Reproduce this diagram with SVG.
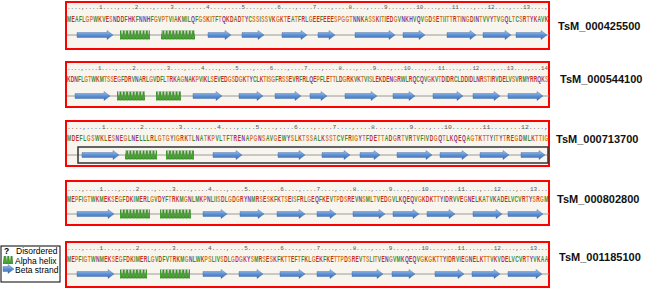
<svg xmlns="http://www.w3.org/2000/svg" width="650" height="289" viewBox="0 0 650 289">
<style>
.box{fill:#f7f5ee;stroke:#ff0000;stroke-width:2}
.seq{font-family:"Liberation Sans",Arial,sans-serif;font-size:9px;font-weight:bold;fill:#3e8a2e}
.r{fill:#c8301c}.o{fill:#db7a26}.p{fill:#7a3c98}
.rul{font-family:"Liberation Mono",monospace;font-size:6px;fill:#555}
.ln{stroke:#9a9a9a;stroke-width:1}
.bs{fill:url(#bgr);stroke:#3b65a3;stroke-width:0.4}
.hx{fill:url(#hx)}
.lab{font-family:"Liberation Sans",Arial,sans-serif;font-size:11px;font-weight:bold;fill:#111}
.leg{font-family:"Liberation Sans",Arial,sans-serif;font-size:8.5px;fill:#000}
</style>
<defs>
<linearGradient id="bgr" x1="0" y1="0" x2="0" y2="1"><stop offset="0" stop-color="#a9c8ee"/><stop offset="0.5" stop-color="#5b8fd3"/><stop offset="1" stop-color="#3a6cb0"/></linearGradient>
<pattern id="hx" patternUnits="userSpaceOnUse" x="0" y="-4.5" width="3.3" height="9"><path d="M0.2,9L1.1,0L2.2,0L3.1,9Z" fill="#45b02a" stroke="#17600d" stroke-width="0.6"/></pattern>
</defs>
<rect width="650" height="289" fill="#fff"/>

<g id="row1">
<rect class="box" x="66" y="2" width="483" height="47"/>
<text class="rul" x="67" y="9" textLength="481" lengthAdjust="spacingAndGlyphs">....,....1....,....2....,....3....,....4....,....5....,....6....,....7....,....8....,....9....,...10....,...11....,...12....,...13....,</text>
<text class="seq" transform="translate(67,21.5) scale(0.55,1)" x="0" y="0" textLength="875" lengthAdjust="spacing">M<tspan class="r">E</tspan>AFL<tspan class="o">GP</tspan>W<tspan class="r">K</tspan>V<tspan class="r">E</tspan><tspan class="o">S</tspan><tspan class="p">N</tspan><tspan class="r">DD</tspan>F<tspan class="p">H</tspan><tspan class="r">K</tspan>F<tspan class="p">NNH</tspan>F<tspan class="o">G</tspan>V<tspan class="o">PT</tspan>VIA<tspan class="r">K</tspan>MIL<tspan class="p">Q</tspan>F<tspan class="o">GS</tspan><tspan class="r">K</tspan>I<tspan class="o">T</tspan>F<tspan class="o">T</tspan><tspan class="p">Q</tspan><tspan class="r">KD</tspan>A<tspan class="r">D</tspan><tspan class="o">T</tspan><tspan class="p">Y</tspan>C<tspan class="o">SS</tspan>I<tspan class="o">SS</tspan>V<tspan class="r">K</tspan><tspan class="o">G</tspan><tspan class="r">K</tspan><tspan class="o">T</tspan><tspan class="r">E</tspan>A<tspan class="o">T</tspan>F<tspan class="r">R</tspan>L<tspan class="o">G</tspan><tspan class="r">EE</tspan>F<tspan class="r">EEE</tspan><tspan class="o">SPGGT</tspan><tspan class="p">NN</tspan><tspan class="r">K</tspan>A<tspan class="o">SS</tspan><tspan class="r">K</tspan>I<tspan class="o">T</tspan>I<tspan class="r">ED</tspan><tspan class="o">G</tspan>V<tspan class="p">N</tspan><tspan class="r">K</tspan><tspan class="p">H</tspan>V<tspan class="p">Q</tspan>V<tspan class="o">G</tspan><tspan class="r">D</tspan><tspan class="o">S</tspan><tspan class="r">E</tspan><tspan class="o">T</tspan>II<tspan class="o">TT</tspan><tspan class="r">R</tspan><tspan class="o">T</tspan>I<tspan class="p">N</tspan><tspan class="o">G</tspan><tspan class="r">D</tspan>I<tspan class="p">N</tspan><tspan class="o">T</tspan>VV<tspan class="p">Y</tspan><tspan class="o">T</tspan>V<tspan class="o">G</tspan><tspan class="p">Q</tspan>L<tspan class="o">T</tspan>C<tspan class="o">S</tspan><tspan class="r">R</tspan><tspan class="o">T</tspan><tspan class="p">Y</tspan><tspan class="r">K</tspan>AV<tspan class="r">K</tspan></text>
<g transform="translate(0,35)">
<line class="ln" x1="67" y1="0" x2="549" y2="0"/>
<rect class="hx" x="120" y="-4.5" width="30" height="9"/>
<rect class="hx" x="161" y="-4.5" width="34" height="9"/>
<path class="bs" d="M77,-2.5H107V-4.5L113,0L107,4.5V2.5H77ZM208,-2.5H225V-4.5L231,0L225,4.5V2.5H208ZM242,-2.5H258V-4.5L264,0L258,4.5V2.5H242ZM282,-2.5H301V-4.5L307,0L301,4.5V2.5H282ZM318,-2.5H329V-4.5L335,0L329,4.5V2.5H318ZM355,-2.5H389V-4.5L395,0L389,4.5V2.5H355ZM403,-2.5H419V-4.5L425,0L419,4.5V2.5H403ZM447,-2.5H470V-4.5L476,0L470,4.5V2.5H447ZM483,-2.5H505V-4.5L511,0L505,4.5V2.5H483ZM516,-2.5H541V-4.5L547,0L541,4.5V2.5H516Z"/>
</g>
<text class="lab" x="558" y="30">TsM_000425500</text>
</g>

<g id="row2">
<rect class="box" x="66" y="62" width="483" height="45"/>
<text class="rul" x="67" y="70" textLength="481" lengthAdjust="spacingAndGlyphs">....,....1....,....2....,....3....,....4....,....5....,....6....,....7....,....8....,....9....,...10....,...11....,...12....,...13....,...14</text>
<text class="seq" transform="translate(67,81.5) scale(0.55,1)" x="0" y="0" textLength="875" lengthAdjust="spacing"><tspan class="r">KD</tspan><tspan class="p">N</tspan>FL<tspan class="o">GT</tspan>W<tspan class="r">K</tspan>M<tspan class="o">TSS</tspan><tspan class="r">E</tspan><tspan class="o">G</tspan>F<tspan class="r">DR</tspan>V<tspan class="p">N</tspan>A<tspan class="r">R</tspan>L<tspan class="o">G</tspan>V<tspan class="r">D</tspan>FL<tspan class="o">T</tspan><tspan class="r">RK</tspan>A<tspan class="o">G</tspan><tspan class="p">N</tspan>A<tspan class="r">K</tspan><tspan class="o">P</tspan>VI<tspan class="r">K</tspan>L<tspan class="o">S</tspan><tspan class="r">E</tspan>V<tspan class="r">ED</tspan><tspan class="o">GS</tspan><tspan class="r">D</tspan><tspan class="o">G</tspan><tspan class="r">K</tspan><tspan class="o">T</tspan><tspan class="p">Y</tspan>CL<tspan class="r">K</tspan><tspan class="o">T</tspan>I<tspan class="o">SG</tspan>F<tspan class="r">R</tspan><tspan class="o">SS</tspan><tspan class="r">E</tspan>V<tspan class="r">R</tspan>F<tspan class="r">R</tspan>L<tspan class="p">Q</tspan><tspan class="r">E</tspan><tspan class="o">P</tspan>FL<tspan class="r">E</tspan><tspan class="o">TT</tspan>L<tspan class="r">D</tspan><tspan class="o">G</tspan><tspan class="r">RK</tspan>V<tspan class="r">K</tspan><tspan class="o">T</tspan>VI<tspan class="o">S</tspan>L<tspan class="r">EKDE</tspan><tspan class="p">N</tspan><tspan class="o">G</tspan><tspan class="r">R</tspan>WL<tspan class="r">R</tspan><tspan class="p">Q</tspan>C<tspan class="p">Q</tspan>V<tspan class="o">G</tspan><tspan class="r">K</tspan>V<tspan class="o">T</tspan><tspan class="r">D</tspan>I<tspan class="r">DR</tspan>CL<tspan class="r">DD</tspan>I<tspan class="r">D</tspan>L<tspan class="p">N</tspan><tspan class="r">R</tspan><tspan class="o">ST</tspan>I<tspan class="r">R</tspan>V<tspan class="r">DE</tspan>LV<tspan class="o">S</tspan>V<tspan class="r">R</tspan>M<tspan class="p">Y</tspan><tspan class="r">RR</tspan><tspan class="p">Q</tspan><tspan class="r">K</tspan><tspan class="o">S</tspan></text>
<g transform="translate(0,96)">
<line class="ln" x1="67" y1="0" x2="549" y2="0"/>
<rect class="hx" x="117" y="-4.5" width="28" height="9"/>
<rect class="hx" x="156" y="-4.5" width="25" height="9"/>
<path class="bs" d="M75,-2.5H104V-4.5L110,0L104,4.5V2.5H75ZM193,-2.5H216V-4.5L222,0L216,4.5V2.5H193ZM239,-2.5H257V-4.5L263,0L257,4.5V2.5H239ZM275,-2.5H295V-4.5L301,0L295,4.5V2.5H275ZM310,-2.5H321V-4.5L327,0L321,4.5V2.5H310ZM345,-2.5H371V-4.5L377,0L371,4.5V2.5H345ZM393,-2.5H409V-4.5L415,0L409,4.5V2.5H393ZM433,-2.5H457V-4.5L463,0L457,4.5V2.5H433ZM473,-2.5H494V-4.5L500,0L494,4.5V2.5H473ZM508,-2.5H537V-4.5L543,0L537,4.5V2.5H508Z"/>
</g>
<text class="lab" x="560" y="83">TsM_000544100</text>
</g>

<g id="row3">
<rect class="box" x="66" y="121" width="483" height="45"/>
<text class="rul" x="67" y="129" textLength="481" lengthAdjust="spacingAndGlyphs">....,....1....,....2....,....3....,....4....,....5....,....6....,....7....,....8....,....9....,...10....,...11....,...12....,</text>
<text class="seq" transform="translate(67,140.5) scale(0.55,1)" x="0" y="0" textLength="875" lengthAdjust="spacing">M<tspan class="r">DE</tspan>FL<tspan class="o">GS</tspan>W<tspan class="r">K</tspan>L<tspan class="r">E</tspan><tspan class="o">S</tspan><tspan class="p">N</tspan><tspan class="r">E</tspan><tspan class="o">G</tspan>L<tspan class="p">N</tspan><tspan class="r">E</tspan>LLL<tspan class="r">R</tspan>L<tspan class="o">GTG</tspan><tspan class="p">Y</tspan>I<tspan class="o">G</tspan><tspan class="r">RK</tspan><tspan class="o">T</tspan>L<tspan class="p">N</tspan>A<tspan class="o">T</tspan><tspan class="r">K</tspan><tspan class="o">P</tspan>VL<tspan class="o">T</tspan>F<tspan class="o">T</tspan><tspan class="r">RE</tspan><tspan class="p">N</tspan>A<tspan class="o">PG</tspan><tspan class="p">N</tspan><tspan class="o">S</tspan>AV<tspan class="o">G</tspan><tspan class="r">E</tspan>W<tspan class="p">Y</tspan><tspan class="o">S</tspan>L<tspan class="r">K</tspan><tspan class="o">TSS</tspan>AL<tspan class="r">K</tspan><tspan class="o">SST</tspan>CVF<tspan class="r">R</tspan>I<tspan class="o">G</tspan><tspan class="p">Y</tspan><tspan class="o">T</tspan>F<tspan class="r">DE</tspan><tspan class="o">TT</tspan>A<tspan class="r">D</tspan><tspan class="o">G</tspan><tspan class="r">R</tspan><tspan class="o">T</tspan>V<tspan class="r">R</tspan><tspan class="o">T</tspan>VFIV<tspan class="r">D</tspan><tspan class="o">G</tspan><tspan class="p">Q</tspan><tspan class="o">T</tspan>L<tspan class="r">K</tspan><tspan class="p">Q</tspan><tspan class="r">E</tspan><tspan class="p">Q</tspan>A<tspan class="o">GT</tspan><tspan class="r">K</tspan><tspan class="o">TT</tspan><tspan class="p">Y</tspan>I<tspan class="o">T</tspan><tspan class="p">Y</tspan><tspan class="o">T</tspan><tspan class="r">RE</tspan><tspan class="o">G</tspan><tspan class="r">D</tspan>ML<tspan class="r">K</tspan><tspan class="o">TT</tspan>I<tspan class="o">G</tspan></text>
<g transform="translate(0,155)">
<line class="ln" x1="67" y1="0" x2="549" y2="0"/>
<rect x="78" y="-8" width="470" height="16" fill="none" stroke="#333" stroke-width="1.5"/>
<rect class="hx" x="125" y="-4.5" width="32" height="9"/>
<rect class="hx" x="166" y="-4.5" width="28" height="9"/>
<path class="bs" d="M82,-2.5H113V-4.5L119,0L113,4.5V2.5H82ZM213,-2.5H236V-4.5L242,0L236,4.5V2.5H213ZM278,-2.5H299V-4.5L305,0L299,4.5V2.5H278ZM322,-2.5H344V-4.5L350,0L344,4.5V2.5H322ZM360,-2.5H374V-4.5L380,0L374,4.5V2.5H360ZM397,-2.5H426V-4.5L432,0L426,4.5V2.5H397ZM440,-2.5H462V-4.5L468,0L462,4.5V2.5H440ZM480,-2.5H503V-4.5L509,0L503,4.5V2.5H480ZM521,-2.5H539V-4.5L545,0L539,4.5V2.5H521Z"/>
</g>
<text class="lab" x="556" y="143">TsM_000713700</text>
</g>

<g id="row4">
<rect class="box" x="66" y="181" width="483" height="44"/>
<text class="rul" x="67" y="191" textLength="481" lengthAdjust="spacingAndGlyphs">....,....1....,....2....,....3....,....4....,....5....,....6....,....7....,....8....,....9....,...10....,...11....,...12....,...13...</text>
<text class="seq" transform="translate(67,201.5) scale(0.55,1)" x="0" y="0" textLength="875" lengthAdjust="spacing">M<tspan class="r">E</tspan><tspan class="o">P</tspan>FI<tspan class="o">GT</tspan>W<tspan class="r">K</tspan>M<tspan class="r">EK</tspan><tspan class="o">S</tspan><tspan class="r">E</tspan><tspan class="o">G</tspan>F<tspan class="r">DK</tspan>IM<tspan class="r">ER</tspan>L<tspan class="o">G</tspan>V<tspan class="r">D</tspan><tspan class="p">Y</tspan>F<tspan class="o">T</tspan><tspan class="r">RK</tspan>M<tspan class="o">G</tspan><tspan class="p">N</tspan>LM<tspan class="r">K</tspan><tspan class="o">P</tspan><tspan class="p">N</tspan>LII<tspan class="o">S</tspan><tspan class="r">D</tspan>L<tspan class="o">G</tspan><tspan class="r">D</tspan><tspan class="o">G</tspan><tspan class="r">R</tspan><tspan class="p">YN</tspan>M<tspan class="r">R</tspan><tspan class="o">S</tspan><tspan class="r">E</tspan><tspan class="o">S</tspan><tspan class="r">K</tspan>F<tspan class="r">K</tspan><tspan class="o">TS</tspan><tspan class="r">E</tspan>I<tspan class="o">S</tspan>F<tspan class="r">R</tspan>L<tspan class="o">G</tspan><tspan class="r">E</tspan><tspan class="p">Q</tspan>F<tspan class="r">KE</tspan>V<tspan class="o">TP</tspan><tspan class="r">D</tspan><tspan class="o">S</tspan><tspan class="r">RE</tspan>V<tspan class="p">N</tspan><tspan class="o">S</tspan>ML<tspan class="o">T</tspan>V<tspan class="r">ED</tspan><tspan class="o">G</tspan>VL<tspan class="r">K</tspan><tspan class="p">Q</tspan><tspan class="r">E</tspan><tspan class="p">Q</tspan>V<tspan class="o">G</tspan><tspan class="r">KDK</tspan><tspan class="o">TT</tspan><tspan class="p">Y</tspan>I<tspan class="r">DR</tspan>VV<tspan class="r">E</tspan><tspan class="o">G</tspan><tspan class="p">N</tspan><tspan class="r">E</tspan>L<tspan class="r">K</tspan>A<tspan class="o">T</tspan>V<tspan class="r">K</tspan>A<tspan class="r">DE</tspan>LVCV<tspan class="r">R</tspan><tspan class="o">T</tspan><tspan class="p">Y</tspan><tspan class="o">S</tspan><tspan class="r">R</tspan><tspan class="o">G</tspan>M</text>
<g transform="translate(0,214)">
<line class="ln" x1="67" y1="0" x2="549" y2="0"/>
<rect class="hx" x="120" y="-4.5" width="30" height="9"/>
<rect class="hx" x="160" y="-4.5" width="31" height="9"/>
<path class="bs" d="M77,-2.5H108V-4.5L114,0L108,4.5V2.5H77ZM203,-2.5H221V-4.5L227,0L221,4.5V2.5H203ZM240,-2.5H258V-4.5L264,0L258,4.5V2.5H240ZM277,-2.5H299V-4.5L305,0L299,4.5V2.5H277ZM317,-2.5H330V-4.5L336,0L330,4.5V2.5H317ZM353,-2.5H379V-4.5L385,0L379,4.5V2.5H353ZM393,-2.5H413V-4.5L419,0L413,4.5V2.5H393ZM427,-2.5H449V-4.5L455,0L449,4.5V2.5H427ZM473,-2.5H496V-4.5L502,0L496,4.5V2.5H473ZM508,-2.5H537V-4.5L543,0L537,4.5V2.5H508Z"/>
</g>
<text class="lab" x="557" y="203">TsM_000802800</text>
</g>

<g id="row5">
<rect class="box" x="66" y="242" width="483" height="45"/>
<text class="rul" x="67" y="250" textLength="481" lengthAdjust="spacingAndGlyphs">....,....1....,....2....,....3....,....4....,....5....,....6....,....7....,....8....,....9....,...10....,...11....,...12....,...13...</text>
<text class="seq" transform="translate(67,261.5) scale(0.55,1)" x="0" y="0" textLength="875" lengthAdjust="spacing">M<tspan class="r">E</tspan><tspan class="o">P</tspan>FI<tspan class="o">GT</tspan>W<tspan class="p">N</tspan>M<tspan class="r">EK</tspan><tspan class="o">S</tspan><tspan class="r">E</tspan><tspan class="o">G</tspan>F<tspan class="r">DK</tspan>IM<tspan class="r">ER</tspan>L<tspan class="o">G</tspan>V<tspan class="r">D</tspan>FV<tspan class="o">T</tspan><tspan class="r">RK</tspan>M<tspan class="o">G</tspan><tspan class="p">N</tspan>LW<tspan class="r">K</tspan><tspan class="o">PS</tspan>LIV<tspan class="o">S</tspan><tspan class="r">D</tspan>L<tspan class="o">G</tspan><tspan class="r">D</tspan><tspan class="o">G</tspan><tspan class="r">K</tspan><tspan class="p">Y</tspan><tspan class="o">S</tspan>M<tspan class="r">R</tspan><tspan class="o">S</tspan><tspan class="r">E</tspan><tspan class="o">S</tspan><tspan class="r">K</tspan>F<tspan class="r">K</tspan><tspan class="o">TT</tspan><tspan class="r">E</tspan>F<tspan class="o">T</tspan>F<tspan class="r">K</tspan>L<tspan class="o">G</tspan><tspan class="r">EK</tspan>F<tspan class="r">KE</tspan><tspan class="o">TTP</tspan><tspan class="r">D</tspan><tspan class="o">S</tspan><tspan class="r">RE</tspan>V<tspan class="o">TS</tspan>LI<tspan class="o">T</tspan>V<tspan class="r">E</tspan><tspan class="p">N</tspan><tspan class="o">G</tspan>VM<tspan class="r">K</tspan><tspan class="p">Q</tspan><tspan class="r">E</tspan><tspan class="p">Q</tspan>V<tspan class="o">G</tspan><tspan class="r">K</tspan><tspan class="o">G</tspan><tspan class="r">K</tspan><tspan class="o">TT</tspan><tspan class="p">Y</tspan>I<tspan class="r">DR</tspan>VI<tspan class="r">E</tspan><tspan class="o">G</tspan><tspan class="p">N</tspan><tspan class="r">E</tspan>L<tspan class="r">K</tspan><tspan class="o">TT</tspan>V<tspan class="r">K</tspan>V<tspan class="r">DE</tspan>LVCV<tspan class="r">R</tspan><tspan class="o">T</tspan><tspan class="p">Y</tspan>V<tspan class="r">K</tspan>AA</text>
<g transform="translate(0,274)">
<line class="ln" x1="67" y1="0" x2="549" y2="0"/>
<rect class="hx" x="120" y="-4.5" width="27" height="9"/>
<rect class="hx" x="160" y="-4.5" width="30" height="9"/>
<path class="bs" d="M77,-2.5H108V-4.5L114,0L108,4.5V2.5H77ZM203,-2.5H221V-4.5L227,0L221,4.5V2.5H203ZM239,-2.5H257V-4.5L263,0L257,4.5V2.5H239ZM280,-2.5H299V-4.5L305,0L299,4.5V2.5H280ZM317,-2.5H330V-4.5L336,0L330,4.5V2.5H317ZM352,-2.5H377V-4.5L383,0L377,4.5V2.5H352ZM392,-2.5H409V-4.5L415,0L409,4.5V2.5H392ZM435,-2.5H458V-4.5L464,0L458,4.5V2.5H435ZM472,-2.5H494V-4.5L500,0L494,4.5V2.5H472ZM508,-2.5H536V-4.5L542,0L536,4.5V2.5H508Z"/>
</g>
<text class="lab" x="559" y="261">TsM_001185100</text>
</g>

<g id="legend">
<rect x="1" y="246" width="59" height="36" fill="#fff" stroke="#000" stroke-width="1"/>
<text class="leg" x="4" y="254" font-weight="bold">?</text>
<text class="leg" x="16" y="254">Disordered</text>
<g transform="translate(0,260)"><rect class="hx" x="3" y="-4" width="10" height="8"/></g>
<text class="leg" x="15" y="263.5">Alpha helix</text>
<path class="bs" transform="translate(0,269)" d="M3,-2.5H8V-4.5L14,0L8,4.5V2.5H3Z"/>
<text class="leg" x="15" y="272.5">Beta strand</text>
</g>
</svg>
